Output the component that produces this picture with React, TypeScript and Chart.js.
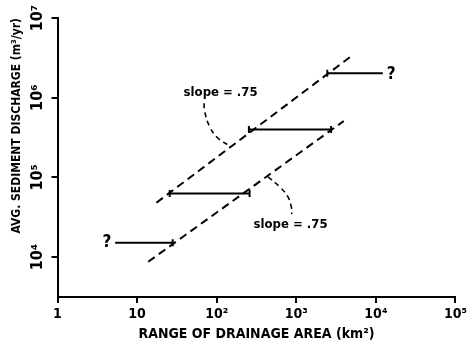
import { useEffect, useRef } from 'react';
import { Chart, registerables } from 'chart.js';

Chart.register(...registerables);

// ---- axis ticks ----
const xTickValues = [1, 10, 100, 1000, 10000, 100000];
const xTickLabels = ['1', '10', '10²', '10³', '10⁴', '10⁵'];
const yTickValues = [1e4, 1e5, 1e6, 1e7];
const yTickLabels = ['10⁴', '10⁵', '10⁶', '10⁷'];

// ---- drainage-area ranges (horizontal bars) ----
const rangeStarts = [5.3, 25.7, 254, 2450];
const rangeEnds = [28, 259, 2740, 12200];
const rangeY = [1.52e4, 6.3e4, 4.0e5, 2.02e6];
const rangeStartTick = [false, true, true, true];
const rangeEndTick = [true, true, true, false];

// ---- slope = .75 envelope lines ----
const upperLineX = [17.5, 5120];
const upperLineY = [4.82e4, 3.43e6];
const lowerLineX = [13.8, 3950];
const lowerLineY = [8.75e3, 5.1e5];

// ---- curved leaders from labels to lines ----
const upperLeaderX = [69.3, 70.7, 81.7, 104, 146];
const upperLeaderY = [8.51e5, 6.67e5, 4.32e5, 3.1e5, 2.48e5];
const lowerLeaderX = [440, 617, 784, 865, 879];
const lowerLeaderY = [1.02e5, 7.64e4, 5.73e4, 4.29e4, 3.47e4];

// ---- text notes ----
const noteTexts = ['slope = .75', 'slope = .75', '?', '?'];
const noteX = [112, 847, 4.18, 15600];
const noteY = [1.15e6, 2.53e4, 1.53e4, 1.93e6];

const FAMILY = '"DejaVu Sans Condensed", "Liberation Sans Narrow", "DejaVu Sans", sans-serif';

const notesPlugin = {
  id: 'notes',
  afterDatasetsDraw(chart: any) {
    const { ctx, scales } = chart;
    const xs = scales.x;
    const ys = scales.y;
    ctx.save();
    ctx.fillStyle = '#000';
    ctx.textAlign = 'center';
    ctx.textBaseline = 'middle';
    noteTexts.forEach((t, i) => {
      ctx.font = t === '?' ? `bold 17px ${FAMILY}` : `bold 13px ${FAMILY}`;
      ctx.fillText(t, xs.getPixelForValue(noteX[i]), ys.getPixelForValue(noteY[i]));
    });
    ctx.restore();
  },
};

export default function App() {
  const ref = useRef<HTMLCanvasElement | null>(null);

  useEffect(() => {
    document.body.style.margin = '0';
    const canvas = ref.current;
    if (!canvas) return;

    const rangeSets = rangeStarts.map((s, i) => ({
      data: [
        { x: s, y: rangeY[i] },
        { x: rangeEnds[i], y: rangeY[i] },
      ],
      showLine: true,
      borderColor: '#000',
      borderWidth: 2,
      pointStyle: 'line',
      rotation: 90,
      pointRadius: [rangeStartTick[i] ? 3.5 : 0, rangeEndTick[i] ? 3.5 : 0],
      pointBorderWidth: 2,
      pointBorderColor: '#000',
      pointBackgroundColor: '#000',
    }));

    const dashed = (xv: number[], yv: number[], w: number, dash: number[], tension = 0) => ({
      data: xv.map((x, i) => ({ x, y: yv[i] })),
      showLine: true,
      borderColor: '#000',
      borderWidth: w,
      borderDash: dash,
      pointRadius: 0,
      tension,
    });

    const chart = new Chart(canvas, {
      type: 'scatter',
      data: {
        datasets: [
          ...rangeSets,
          dashed(upperLineX, upperLineY, 2, [8, 5]),
          dashed(lowerLineX, lowerLineY, 2, [8, 5]),
          dashed(upperLeaderX, upperLeaderY, 1.6, [5, 4], 0.4),
          dashed(lowerLeaderX, lowerLeaderY, 1.6, [5, 4], 0.4),
        ] as any,
      },
      options: {
        animation: false,
        responsive: false,
        layout: { padding: { top: 18, right: 13.5, left: 0, bottom: 0 } },
        plugins: { legend: { display: false }, tooltip: { enabled: false } },
        scales: {
          x: {
            type: 'logarithmic',
            min: 1,
            max: 1e5,
            afterBuildTicks: (s: any) => {
              s.ticks = xTickValues.map((v) => ({ value: v }));
            },
            afterFit: (s: any) => {
              s.height = 54;
            },
            ticks: {
              autoSkip: false,
              minRotation: 0,
              maxRotation: 0,
              padding: 3,
              color: '#000',
              font: { family: FAMILY, size: 14, weight: 'bold' },
              callback: (v: any) => {
                const i = xTickValues.indexOf(Number(v));
                return i >= 0 ? xTickLabels[i] : '';
              },
            },
            grid: { drawOnChartArea: false, drawTicks: true, tickLength: 6, color: '#000', lineWidth: 2 },
            border: { display: true, color: '#000', width: 2 },
            title: {
              display: true,
              text: 'RANGE OF DRAINAGE AREA (km²)',
              color: '#000',
              font: { family: FAMILY, size: 14, weight: 'bold' },
              padding: { top: 0, bottom: 8 },
            },
          },
          y: {
            type: 'logarithmic',
            min: 3162.28,
            max: 1e7,
            afterBuildTicks: (s: any) => {
              s.ticks = yTickValues.map((v) => ({ value: v }));
            },
            afterFit: (s: any) => {
              s.width = 57.5;
            },
            ticks: {
              autoSkip: false,
              minRotation: 90,
              maxRotation: 90,
              crossAlign: 'center',
              padding: 0,
              color: '#000',
              font: { family: FAMILY, size: 16, weight: 'bold' },
              callback: (v: any) => {
                const i = yTickValues.indexOf(Number(v));
                return i >= 0 ? yTickLabels[i] : '';
              },
            },
            grid: { drawOnChartArea: false, drawTicks: true, tickLength: 6, color: '#000', lineWidth: 2 },
            border: { display: true, color: '#000', width: 2 },
            title: {
              display: true,
              text: 'AVG. SEDIMENT DISCHARGE (m³/yr)',
              align: 'end',
              color: '#000',
              font: { family: FAMILY, size: 12, weight: 'bold' },
              padding: { top: 10, bottom: 0 },
            },
          },
        },
      } as any,
      plugins: [notesPlugin],
    });

    return () => chart.destroy();
  }, []);

  return (
    <div style={{ width: 470, height: 351, background: '#fff' }}>
      <canvas ref={ref} width={470} height={351} />
    </div>
  );
}
